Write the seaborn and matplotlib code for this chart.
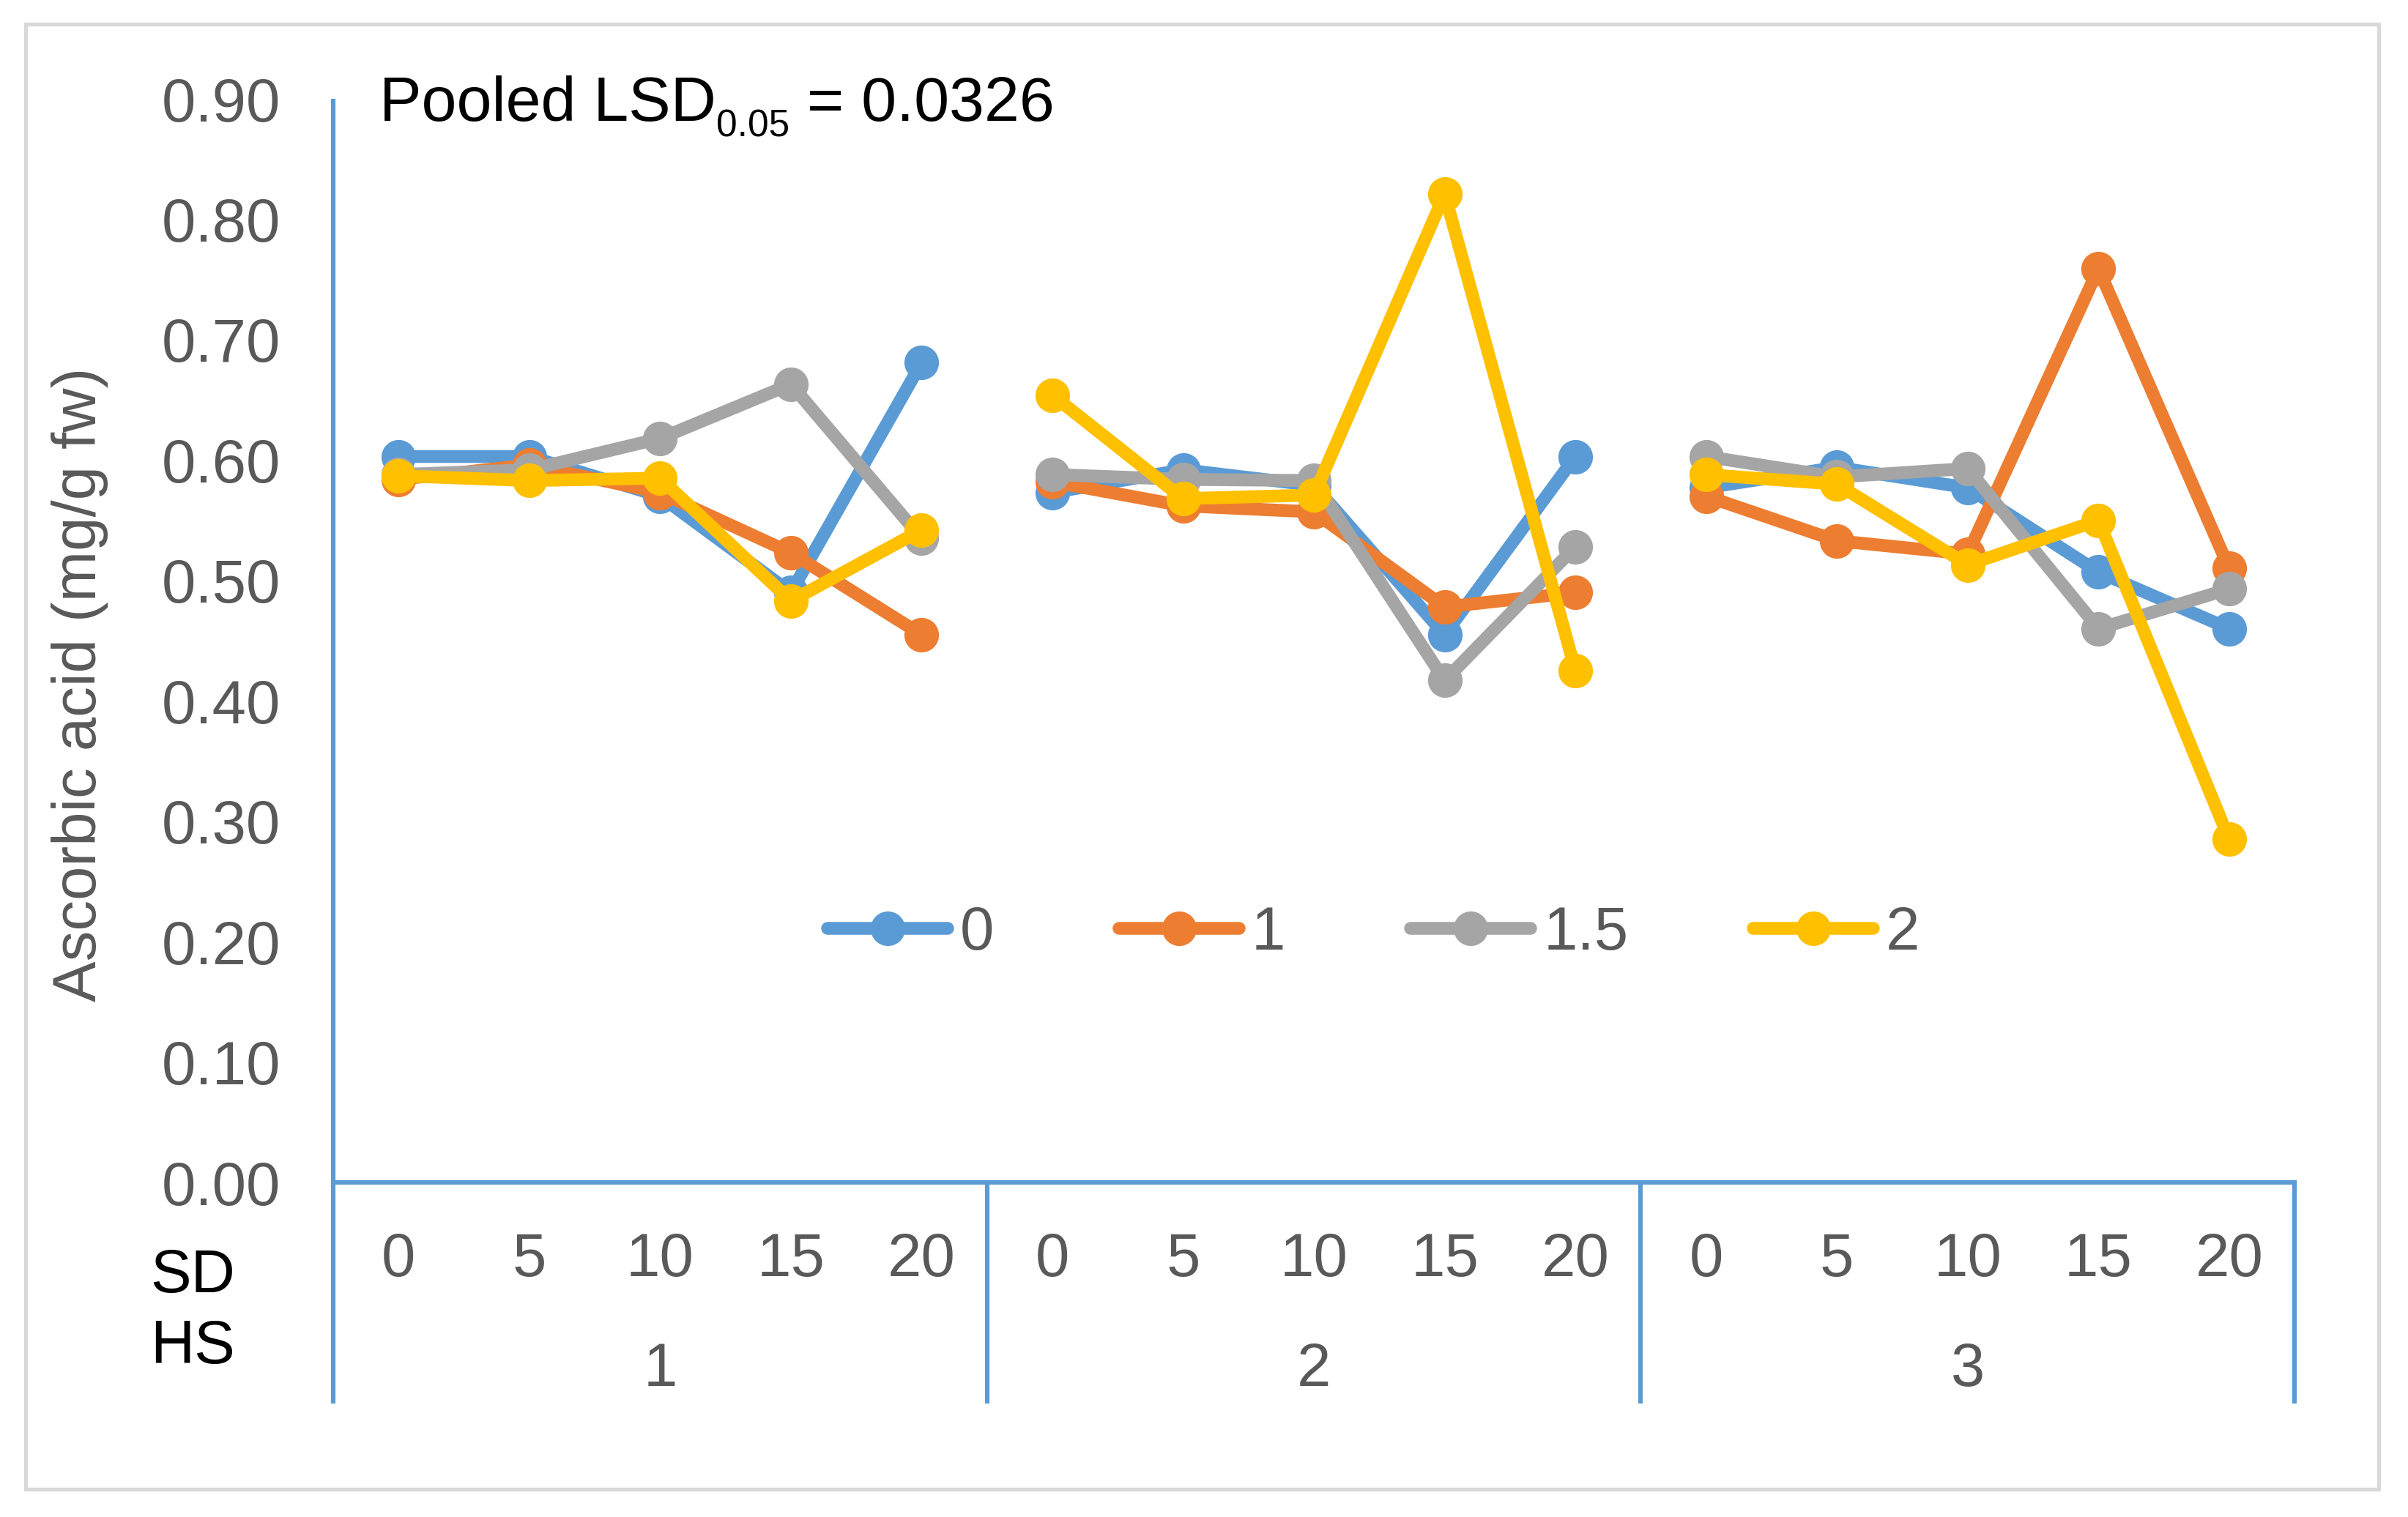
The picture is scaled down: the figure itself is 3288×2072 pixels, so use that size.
import pandas as pd
import matplotlib.pyplot as plt
import seaborn as sns
from matplotlib.patches import Rectangle

# data: HS groups x SD levels, one list per series
hs_levels = [1, 2, 3]
sd_levels = [0, 5, 10, 15, 20]
series_names = ["0", "1", "1.5", "2"]

vals_0 = [0.603, 0.603, 0.570, 0.490, 0.681,
          0.573, 0.592, 0.579, 0.455, 0.603,
          0.577, 0.594, 0.577, 0.507, 0.460]
vals_1 = [0.584, 0.596, 0.573, 0.523, 0.455,
          0.582, 0.562, 0.557, 0.478, 0.490,
          0.570, 0.533, 0.522, 0.759, 0.510]
vals_15 = [0.588, 0.592, 0.618, 0.663, 0.535,
           0.588, 0.584, 0.583, 0.417, 0.528,
           0.603, 0.586, 0.593, 0.460, 0.493]
vals_2 = [0.587, 0.583, 0.585, 0.483, 0.542,
          0.654, 0.568, 0.571, 0.821, 0.425,
          0.588, 0.580, 0.513, 0.550, 0.285]

y_ticks = [0.0, 0.1, 0.2, 0.3, 0.4, 0.5, 0.6, 0.7, 0.8, 0.9]

colors = {"0": "#5B9BD5", "1": "#ED7D31", "1.5": "#A5A5A5", "2": "#FFC000"}
grey_txt = "#595959"
axis_blue = "#5B9BD5"

rows = []
for name, vals in zip(series_names, [vals_0, vals_1, vals_15, vals_2]):
    for i, v in enumerate(vals):
        rows.append({"series": name, "pos": i, "hs": hs_levels[i // 5],
                     "sd": sd_levels[i % 5], "value": v})
df = pd.DataFrame(rows)

sns.set_theme(style="white")
plt.rcParams["font.family"] = ["Liberation Sans", "DejaVu Sans"]
FS = 30

fig = plt.figure(figsize=(16.44, 10.36), dpi=200)
ax = fig.add_axes([0.1384, 0.2205, 0.9529 - 0.1384, 0.9348 - 0.2205])

sns.lineplot(data=df, x="pos", y="value", hue="series", units="hs",
             estimator=None, palette=colors, hue_order=series_names,
             marker="o", markersize=17, markeredgewidth=0, linewidth=6.3,
             ax=ax, clip_on=False)

ax.set_xlim(-0.5, 14.5)
ax.set_ylim(0, 0.9)
ax.set_yticks(y_ticks)
ax.set_yticklabels([f"{t:.2f}" for t in y_ticks])
ax.set_xticks(range(15))
ax.set_xticklabels([str(s) for s in sd_levels] * len(hs_levels))
ax.tick_params(axis="y", length=0, pad=26, labelsize=FS, labelcolor=grey_txt)
ax.tick_params(axis="x", length=0, pad=24, labelsize=FS, labelcolor=grey_txt)
ax.set_xlabel("")
ax.set_ylabel("")

for side in ["top", "right", "left"]:
    ax.spines[side].set_visible(False)
ax.spines["bottom"].set_color(axis_blue)
ax.spines["bottom"].set_linewidth(2.2)

# y axis line running down into the category area, plus group dividers
xt = ax.get_xaxis_transform()
ax.vlines([-0.5], -0.204, 1.0, transform=xt, colors=axis_blue, lw=2.2, clip_on=False)
ax.vlines([4.5, 9.5, 14.5], -0.204, 0.0, transform=xt, colors=axis_blue, lw=2.2, clip_on=False)

for k, hs in enumerate(hs_levels):
    ax.text(k * 5 + 2, -0.1878, str(hs), transform=xt, ha="center", va="baseline",
            fontsize=FS, color=grey_txt)

fig.text(0.0623, 0.1482, "SD", fontsize=FS, color="black", va="baseline")
fig.text(0.0623, 0.1013, "HS", fontsize=FS, color="black", va="baseline")

fig.text(0.0332, 0.549, "Ascorbic acid (mg/g fw)", rotation=90, ha="center",
         va="center", fontsize=FS, color=grey_txt)

# Pooled LSD with subscript
y0 = 0.9204
t1 = fig.text(0.1575, y0, "Pooled LSD", fontsize=31, color="black", va="baseline")
t2 = ax.annotate("0.05", xy=(1, y0), xycoords=(t1, "figure fraction"),
                 xytext=(0, -7.6), textcoords="offset points",
                 fontsize=18.5, color="black", va="baseline", ha="left")
ax.annotate(" = 0.0326", xy=(1, y0), xycoords=(t2, "figure fraction"),
            fontsize=31, color="black", va="baseline", ha="left")

handles, labels = ax.get_legend_handles_labels()
ax.legend(handles, labels, loc="center", bbox_to_anchor=(0.5305, 0.2297),
          ncol=4, frameon=False, fontsize=FS, labelcolor=grey_txt,
          handlelength=1.97, handletextpad=0.2, columnspacing=2.05,
          borderpad=0, borderaxespad=0)

# chart area border
fig.patches.append(Rectangle((0.0106, 0.0183), 0.9878 - 0.0106, 0.984 - 0.0183,
                             transform=fig.transFigure, fill=False,
                             edgecolor="#D9D9D9", linewidth=1.9))

fig.savefig("out.png", dpi=200, facecolor="white")
